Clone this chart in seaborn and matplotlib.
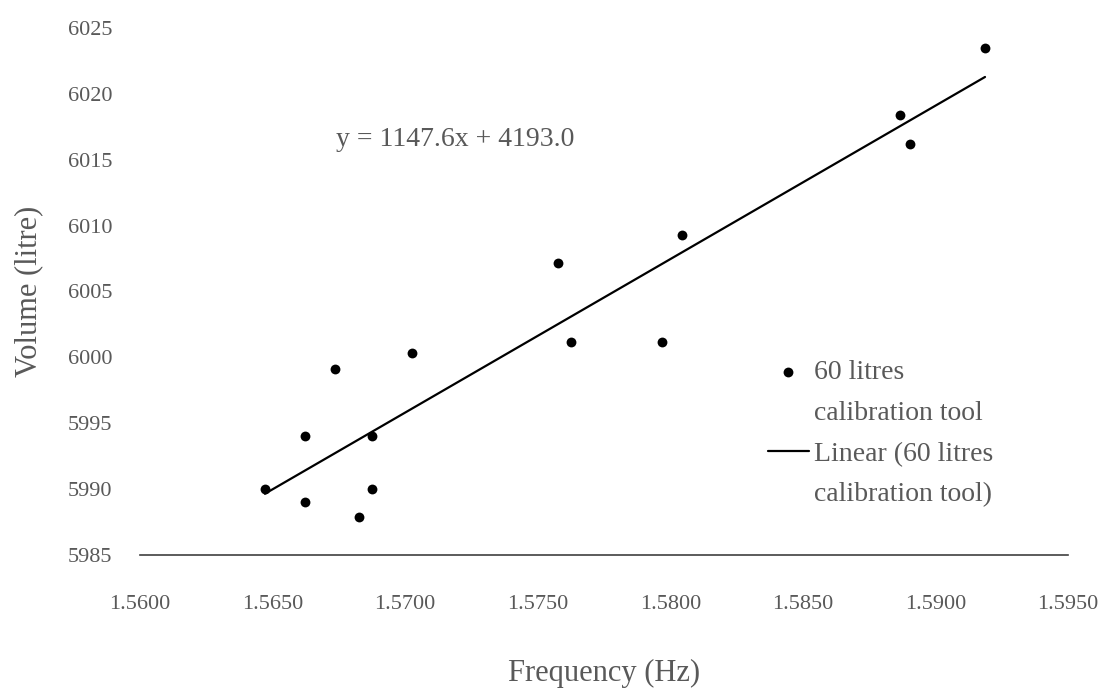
import numpy as np
import pandas as pd
import matplotlib
matplotlib.use('Agg')
import matplotlib.pyplot as plt
from matplotlib.lines import Line2D
import seaborn as sns

# 読み取った値（周波数 Hz / 容量 litre）
frequency = [1.56471, 1.56622, 1.56622, 1.56735, 1.56875, 1.56875, 1.56826, 1.57026,
             1.57577, 1.57626, 1.57969, 1.58044, 1.58866, 1.58904, 1.59187]
volume = [5990.0, 5994.0, 5989.0, 5999.1, 5994.0, 5990.0, 5987.9, 6000.3,
          6007.2, 6001.2, 6001.2, 6009.3, 6018.4, 6016.2, 6023.5]

x_ticks = [1.5600, 1.5650, 1.5700, 1.5750, 1.5800, 1.5850, 1.5900, 1.5950]
y_ticks = [5985, 5990, 5995, 6000, 6005, 6010, 6015, 6020, 6025]

series_name = ['60 litres', 'calibration tool']
trend_name = ['Linear (60 litres', 'calibration tool)']
equation = 'y = 1147.6x + 4193.0'

df = pd.DataFrame({'freq': frequency, 'vol': volume})

sns.set_style('white')
plt.rcParams['font.family'] = ['Liberation Serif', 'DejaVu Serif']
text_col = '#595959'

fig = plt.figure(figsize=(11.03, 6.89), dpi=100)
ax = fig.add_axes([140 / 1103, 1 - 555 / 689, (1068 - 140) / 1103, (555 - 28) / 689])

sns.scatterplot(data=df, x='freq', y='vol', ax=ax, color='black', s=50,
                marker='o', edgecolor='black', linewidth=0, label='\n'.join(series_name), zorder=3)
sns.regplot(data=df, x='freq', y='vol', ax=ax, scatter=False, ci=None, truncate=True,
            line_kws={'color': 'black', 'linewidth': 1.6}, label='\n'.join(trend_name))

ax.set_xlim(x_ticks[0], x_ticks[-1])
ax.set_ylim(y_ticks[0], y_ticks[-1])
ax.set_xticks(x_ticks)
ax.set_yticks(y_ticks)
ax.set_xticklabels([f'{v:.4f}' for v in x_ticks])
ax.set_yticklabels([str(v) for v in y_ticks])
ax.tick_params(axis='x', length=0, pad=29, labelsize=16, labelcolor=text_col)
ax.tick_params(axis='y', length=0, pad=20, labelsize=16, labelcolor=text_col)

for s in ['top', 'right', 'left']:
    ax.spines[s].set_visible(False)
ax.spines['bottom'].set_color('#404040')
ax.spines['bottom'].set_linewidth(1.2)

ax.set_xlabel('Frequency (Hz)', fontsize=22, color=text_col, labelpad=32)
ax.set_ylabel('Volume (litre)', fontsize=22, color=text_col, labelpad=18)

ax.text(1.57188, 6016.5, equation, fontsize=20, color=text_col, ha='center', va='center')

# 凡例：マーカーと線を各ラベルの1行目にそろえる
handles, _ = ax.get_legend_handles_labels()
blank = Line2D([], [], linestyle='none')
leg = ax.legend([handles[0], blank, handles[1], blank],
                [series_name[0], series_name[1], trend_name[0], trend_name[1]],
                loc='upper left', bbox_to_anchor=(0.677, 0.37), frameon=False,
                fontsize=20, handlelength=1.45, handletextpad=0.2, labelspacing=0.55,
                borderpad=0, borderaxespad=0, labelcolor=text_col)

fig.savefig('out.png', dpi=100)
